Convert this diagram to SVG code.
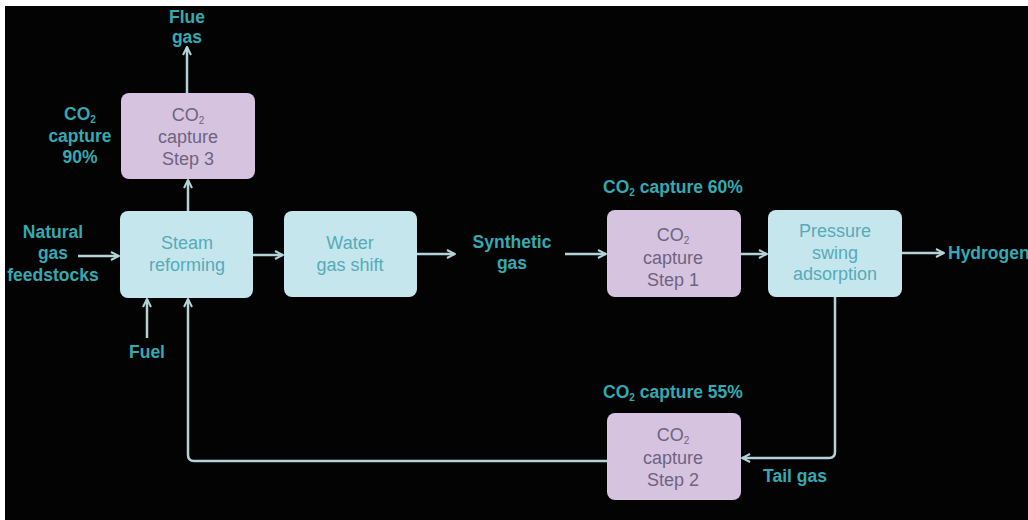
<svg xmlns="http://www.w3.org/2000/svg" width="1028" height="520" viewBox="0 0 1028 520">
<defs>
<style>
.bg{fill:#030303}
.blue{fill:#c6e6ee}
.purple{fill:#d6c3e0}
.bt{font-family:"Liberation Sans",Arial,sans-serif;font-size:18px;fill:#55abb8;text-anchor:middle}
.pt{font-family:"Liberation Sans",Arial,sans-serif;font-size:18px;fill:#6e6480;text-anchor:middle}
.lb{font-family:"Liberation Sans",Arial,sans-serif;font-size:17.5px;font-weight:bold;fill:#35aab2;text-anchor:middle}
.sub{font-size:10px}
.c{fill:none;stroke:#b3d3d8;stroke-width:2.5;marker-end:url(#ah)}
</style>
<marker id="ah" viewBox="0 0 10 10" refX="9" refY="5" markerWidth="4" markerHeight="4" orient="auto" markerUnits="strokeWidth">
<path d="M1,1 L9,5 L1,9" fill="none" stroke="#b3d3d8" stroke-width="2"/>
</marker>
</defs>
<rect x="0" y="0" width="1028" height="520" fill="#ffffff"/>
<rect class="bg" x="5" y="6" width="1023" height="514"/>

<g id="connectors">
<path class="c" d="M187,93 V47"/>
<path class="c" d="M188,211 V180"/>
<path class="c" d="M78,256 H119"/>
<path class="c" d="M147,338 V299"/>
<path class="c" d="M253,255 H283"/>
<path class="c" d="M417,254 H455"/>
<path class="c" d="M565,254 H606"/>
<path class="c" d="M741,254 H767"/>
<path class="c" d="M902,253 H944"/>
<path class="c" d="M835,297 V452 Q835,458 829,458 H742"/>
<path class="c" d="M607,461 H194 Q188,461 188,455 V299"/>
</g>

<g id="flue-gas">
<text class="lb" x="187" y="23">Flue</text>
<text class="lb" x="187" y="43">gas</text>
</g>

<g id="label-90">
<text class="lb" x="80" y="120">CO<tspan class="sub" dy="3">2</tspan></text>
<text class="lb" x="80" y="142">capture</text>
<text class="lb" x="80" y="163">90%</text>
</g>

<g id="step3">
<rect class="purple" x="121" y="93" width="134" height="86" rx="8"/>
<text class="pt" x="188" y="121">CO<tspan class="sub" dy="3">2</tspan></text>
<text class="pt" x="188" y="143">capture</text>
<text class="pt" x="188" y="165">Step 3</text>
</g>

<g id="natural-gas">
<text class="lb" x="53" y="238">Natural</text>
<text class="lb" x="53" y="259">gas</text>
<text class="lb" x="53" y="281">feedstocks</text>
</g>

<g id="steam-reforming">
<rect class="blue" x="120" y="211" width="133" height="87" rx="8"/>
<text class="bt" x="187" y="249">Steam</text>
<text class="bt" x="187" y="271">reforming</text>
</g>

<g id="fuel">
<text class="lb" x="147" y="358">Fuel</text>
</g>

<g id="water-gas-shift">
<rect class="blue" x="284" y="211" width="133" height="86" rx="8"/>
<text class="bt" x="350" y="249">Water</text>
<text class="bt" x="350" y="271">gas shift</text>
</g>

<g id="synthetic-gas">
<text class="lb" x="512" y="248">Synthetic</text>
<text class="lb" x="512" y="269">gas</text>
</g>

<g id="label-60">
<text class="lb" x="673" y="193">CO<tspan class="sub" dy="3">2</tspan><tspan dy="-3"> capture 60%</tspan></text>
</g>

<g id="step1">
<rect class="purple" x="607" y="210" width="134" height="87" rx="8"/>
<text class="pt" x="673" y="241">CO<tspan class="sub" dy="3">2</tspan></text>
<text class="pt" x="673" y="264">capture</text>
<text class="pt" x="673" y="286">Step 1</text>
</g>

<g id="psa">
<rect class="blue" x="768" y="210" width="134" height="87" rx="8"/>
<text class="bt" x="835" y="237">Pressure</text>
<text class="bt" x="835" y="259">swing</text>
<text class="bt" x="835" y="280">adsorption</text>
</g>

<g id="hydrogen">
<text class="lb" x="948" y="259" style="text-anchor:start">Hydrogen</text>
</g>

<g id="label-55">
<text class="lb" x="673" y="398">CO<tspan class="sub" dy="3">2</tspan><tspan dy="-3"> capture 55%</tspan></text>
</g>

<g id="step2">
<rect class="purple" x="607" y="413" width="134" height="87" rx="8"/>
<text class="pt" x="673" y="441">CO<tspan class="sub" dy="3">2</tspan></text>
<text class="pt" x="673" y="464">capture</text>
<text class="pt" x="673" y="486">Step 2</text>
</g>

<g id="tail-gas">
<text class="lb" x="795" y="482">Tail gas</text>
</g>
</svg>
